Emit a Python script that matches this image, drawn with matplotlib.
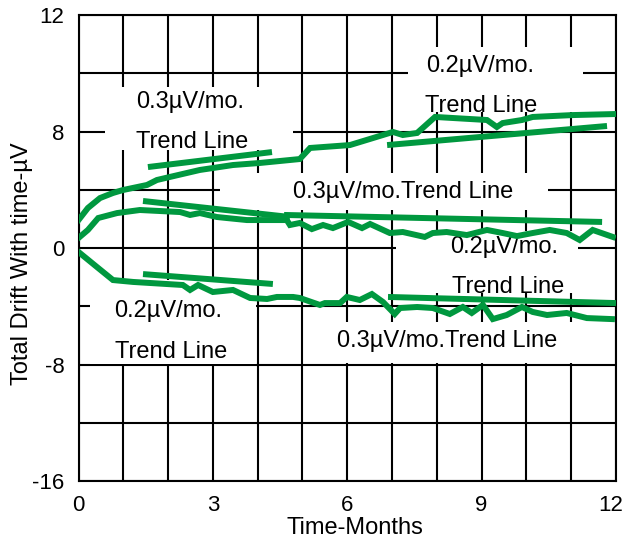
import matplotlib
matplotlib.use('Agg')
import matplotlib.pyplot as plt
import matplotlib.transforms as mtransforms
from matplotlib.patches import Rectangle

plt.rcParams['font.family'] = ['Liberation Sans', 'DejaVu Sans']

GREEN = '#00983F'

# long-term drift of three parts (months, microvolts)
months_a = [0.0, 0.21, 0.48, 0.77, 0.99, 1.53, 1.75, 2.04, 2.71, 3.45, 4.05, 4.94,
            5.17, 6.06, 7.02, 7.24, 7.56, 7.96, 9.12, 9.34, 9.47, 9.90, 10.14, 11.04, 11.98]
drift_a = [1.92, 2.75, 3.43, 3.78, 3.98, 4.33, 4.67, 4.88, 5.36, 5.70, 5.84, 6.11,
           6.87, 7.07, 7.97, 7.76, 7.90, 9.00, 8.79, 8.31, 8.58, 8.79, 9.00, 9.13, 9.20]

months_b = [0.0, 0.21, 0.44, 0.86, 1.37, 2.27, 2.49, 2.71, 3.09, 3.31, 3.76, 4.65,
            4.72, 4.94, 5.21, 5.46, 5.68, 6.02, 6.33, 6.51, 6.95, 7.24, 7.73, 7.91,
            8.22, 8.67, 9.12, 9.47, 9.79, 10.14, 10.52, 10.90, 11.19, 11.48, 11.93]
drift_b = [0.69, 1.24, 2.06, 2.40, 2.61, 2.47, 2.27, 2.40, 2.13, 2.06, 1.92, 1.92,
           1.58, 1.72, 1.30, 1.58, 1.37, 1.79, 1.37, 1.65, 1.03, 1.10, 0.76, 1.03,
           1.10, 0.89, 1.24, 1.03, 0.82, 1.03, 1.24, 1.03, 0.55, 1.24, 0.76]

months_c = [0.0, 0.41, 0.77, 1.22, 2.33, 2.49, 2.67, 3.00, 3.45, 3.83, 4.21, 4.43,
            4.79, 4.94, 5.39, 5.50, 5.84, 5.99, 6.28, 6.55, 6.80, 7.06, 7.18, 7.56,
            7.91, 8.29, 8.58, 8.78, 9.03, 9.25, 9.56, 9.90, 10.14, 10.46, 10.90, 11.35, 11.91]
drift_c = [-0.27, -1.30, -2.20, -2.33, -2.54, -2.88, -2.54, -3.02, -2.88, -3.43, -3.50, -3.36,
           -3.36, -3.43, -3.91, -3.78, -3.78, -3.36, -3.57, -3.16, -3.71, -4.53, -4.12, -4.05,
           -4.12, -4.53, -4.05, -4.46, -3.91, -4.88, -4.60, -4.05, -4.39, -4.60, -4.46, -4.81, -4.88]

# fitted trend segments: (start month, end month), (start drift, end drift)
trend_months = [(1.55, 4.32), (6.89, 11.80), (1.44, 4.72), (4.59, 11.69), (1.44, 4.34), (6.91, 12.0)]
trend_drift = [(5.56, 6.59), (7.07, 8.38), (3.23, 2.13), (2.27, 1.79), (-1.79, -2.47), (-3.36, -3.78)]

fig = plt.figure(figsize=(6.26, 5.42), dpi=100)
ax = fig.add_axes([0.1254, 0.1125, 0.8586, 0.8598])

ax.set_xlim(0, 12)
ax.set_ylim(-16, 16)
ax.set_xticks([0, 3, 6, 9, 12])
ax.set_xticks(range(13), minor=True)
ax.set_yticks([-16, -8, 0, 8, 16])
ax.set_yticklabels(['-16', '-8', '0', '8', '12'])
ax.set_yticks(range(-16, 17, 4), minor=True)
ax.tick_params(which='both', length=0, labelsize=16, pad=10)
ax.set_axisbelow(True)
ax.grid(which='both', color='black', linewidth=1.5)
for s in ax.spines.values():
    s.set_linewidth(1.5)

# nudge the last month label so it stays inside the figure
last = ax.get_xticklabels()[-1]
last.set_transform(last.get_transform() + mtransforms.ScaledTranslation(-4 / 72, 0, fig.dpi_scale_trans))

# white panels behind the annotations
panels = [(0.59, 6.73, 4.20, 4.33), (7.35, 9.34, 3.91, 4.46), (3.16, 2.61, 7.32, 2.54),
          (7.09, -3.09, 4.06, 4.25), (0.26, -7.95, 3.70, 5.75), (5.24, -7.90, 6.40, 2.82)]
for x0, y0, w, h in panels:
    ax.add_patch(Rectangle((x0, y0), w, h, facecolor='white', edgecolor='none', zorder=1))

txt = dict(fontsize=17, ha='center', va='baseline', zorder=2)
ax.text(2.49, 9.61, '0.3µV/mo.', **txt)
ax.text(2.53, 6.87, 'Trend Line', **txt)
ax.text(8.96, 12.09, '0.2µV/mo.', **txt)
ax.text(9.00, 9.34, 'Trend Line', **txt)
ax.text(7.24, 3.43, '0.3µV/mo.Trend Line', **txt)
ax.text(9.50, -0.34, '0.2µV/mo.', **txt)
ax.text(9.59, -3.09, 'Trend Line', **txt)
ax.text(2.00, -4.74, '0.2µV/mo.', **txt)
ax.text(2.06, -7.55, 'Trend Line', **txt)
ax.text(8.23, -6.80, '0.3µV/mo.Trend Line', **txt)

for mx, dy in zip([months_a, months_b, months_c], [drift_a, drift_b, drift_c]):
    ax.plot(mx, dy, color=GREEN, linewidth=4.3, solid_joinstyle='miter', zorder=3)
for mx, dy in zip(trend_months, trend_drift):
    ax.plot(mx, dy, color=GREEN, linewidth=4.3, solid_capstyle='butt', zorder=3)

ax.set_xlabel('Time-Months', fontsize=17)
ax.set_ylabel('Total Drift With time-µV', fontsize=17)
ax.xaxis.set_label_coords(0.514, -0.077)
ax.yaxis.set_label_coords(-0.085, 0.466)

plt.savefig('out.png', dpi=100)
